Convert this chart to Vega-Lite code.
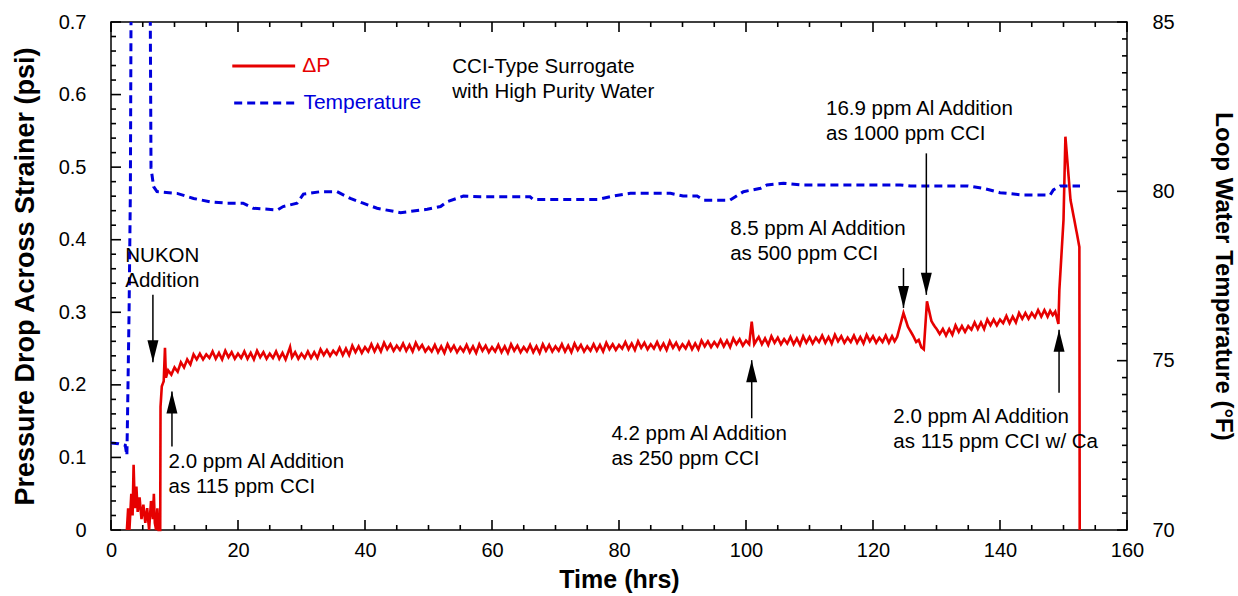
{
  "$schema": "https://vega.github.io/schema/vega-lite/v6.json",
  "width": 1016,
  "height": 508,
  "autosize": {"type": "none"},
  "padding": {"left": 111, "top": 22, "right": 111, "bottom": 66},
  "background": "white",
  "config": {
    "view": {"stroke": "black", "strokeWidth": 1.5},
    "font": "Liberation Sans",
    "axis": {
      "grid": false,
      "domain": false,
      "labelFont": "Liberation Sans",
      "labelFontSize": 20,
      "labelColor": "black",
      "labelFlush": false,
      "labelOverlap": false,
      "titleFont": "Liberation Sans",
      "titleFontSize": 24,
      "titleFontWeight": "bold",
      "titleColor": "black"
    }
  },
  "datasets": {
    "dp": [
      {"t": 2.5, "p": 0, "s": "ΔP"}, {"t": 2.7, "p": 0.03, "s": "ΔP"}, {"t": 2.9, "p": 0.0, "s": "ΔP"}, {"t": 3.2, "p": 0.05, "s": "ΔP"}, {"t": 3.4, "p": 0.02, "s": "ΔP"}, {"t": 3.56, "p": 0.09, "s": "ΔP"}, {"t": 3.75, "p": 0.03, "s": "ΔP"}, {"t": 4.0, "p": 0.06, "s": "ΔP"}, {"t": 4.2, "p": 0.025, "s": "ΔP"}, {"t": 4.5, "p": 0.045, "s": "ΔP"}, {"t": 4.8, "p": 0.015, "s": "ΔP"}, {"t": 5.1, "p": 0.035, "s": "ΔP"}, {"t": 5.4, "p": 0.01, "s": "ΔP"}, {"t": 5.7, "p": 0.03, "s": "ΔP"}, {"t": 6.0, "p": 0.0, "s": "ΔP"}, {"t": 6.3, "p": 0.04, "s": "ΔP"}, {"t": 6.6, "p": 0.015, "s": "ΔP"}, {"t": 6.75, "p": 0.05, "s": "ΔP"}, {"t": 6.9, "p": 0.01, "s": "ΔP"}, {"t": 7.1, "p": 0.0, "s": "ΔP"}, {"t": 7.3, "p": 0.03, "s": "ΔP"}, {"t": 7.5, "p": 0.0, "s": "ΔP"}, {"t": 7.75, "p": 0.0, "s": "ΔP"},
      {"t": 7.8, "p": 0.17, "s": "ΔP"}, {"t": 8.0, "p": 0.198, "s": "ΔP"}, {"t": 8.3, "p": 0.205, "s": "ΔP"}, {"t": 8.5, "p": 0.251, "s": "ΔP"}, {"t": 8.65, "p": 0.21, "s": "ΔP"}, {"t": 9.0, "p": 0.22, "s": "ΔP"}, {"t": 9.5, "p": 0.214, "s": "ΔP"}, {"t": 10.0, "p": 0.224, "s": "ΔP"}, {"t": 10.5, "p": 0.218, "s": "ΔP"},
      {"t": 11, "p": 0.231, "s": "ΔP"}, {"t": 11.5, "p": 0.224, "s": "ΔP"}, {"t": 12, "p": 0.235, "s": "ΔP"}, {"t": 12.5, "p": 0.228, "s": "ΔP"}, {"t": 13, "p": 0.242, "s": "ΔP"}, {"t": 13.5, "p": 0.235, "s": "ΔP"}, {"t": 14, "p": 0.243, "s": "ΔP"}, {"t": 14.5, "p": 0.235, "s": "ΔP"}, {"t": 15, "p": 0.242, "s": "ΔP"}, {"t": 15.5, "p": 0.237, "s": "ΔP"},
      {"t": 16, "p": 0.246, "s": "ΔP"}, {"t": 16.5, "p": 0.236, "s": "ΔP"}, {"t": 17, "p": 0.244, "s": "ΔP"}, {"t": 17.5, "p": 0.235, "s": "ΔP"}, {"t": 18, "p": 0.247, "s": "ΔP"}, {"t": 18.5, "p": 0.238, "s": "ΔP"}, {"t": 19, "p": 0.245, "s": "ΔP"}, {"t": 19.5, "p": 0.236, "s": "ΔP"}, {"t": 20, "p": 0.243, "s": "ΔP"}, {"t": 20.5, "p": 0.237, "s": "ΔP"},
      {"t": 21, "p": 0.246, "s": "ΔP"}, {"t": 21.5, "p": 0.236, "s": "ΔP"}, {"t": 22, "p": 0.244, "s": "ΔP"}, {"t": 22.5, "p": 0.235, "s": "ΔP"}, {"t": 23, "p": 0.247, "s": "ΔP"}, {"t": 23.5, "p": 0.238, "s": "ΔP"}, {"t": 24, "p": 0.245, "s": "ΔP"}, {"t": 24.5, "p": 0.236, "s": "ΔP"}, {"t": 25, "p": 0.243, "s": "ΔP"}, {"t": 25.5, "p": 0.237, "s": "ΔP"},
      {"t": 26, "p": 0.246, "s": "ΔP"}, {"t": 26.5, "p": 0.236, "s": "ΔP"}, {"t": 27, "p": 0.244, "s": "ΔP"}, {"t": 27.5, "p": 0.235, "s": "ΔP"}, {"t": 28, "p": 0.247, "s": "ΔP"}, {"t": 28.2, "p": 0.252, "s": "ΔP"}, {"t": 28.5, "p": 0.238, "s": "ΔP"}, {"t": 29, "p": 0.245, "s": "ΔP"}, {"t": 29.5, "p": 0.236, "s": "ΔP"}, {"t": 30, "p": 0.243, "s": "ΔP"}, {"t": 30.5, "p": 0.237, "s": "ΔP"},
      {"t": 31, "p": 0.246, "s": "ΔP"}, {"t": 31.5, "p": 0.237, "s": "ΔP"}, {"t": 32, "p": 0.245, "s": "ΔP"}, {"t": 32.5, "p": 0.237, "s": "ΔP"}, {"t": 33, "p": 0.249, "s": "ΔP"}, {"t": 33.5, "p": 0.241, "s": "ΔP"}, {"t": 34, "p": 0.248, "s": "ΔP"}, {"t": 34.5, "p": 0.24, "s": "ΔP"}, {"t": 35, "p": 0.247, "s": "ΔP"}, {"t": 35.5, "p": 0.242, "s": "ΔP"},
      {"t": 36, "p": 0.251, "s": "ΔP"}, {"t": 36.5, "p": 0.241, "s": "ΔP"}, {"t": 37, "p": 0.25, "s": "ΔP"}, {"t": 37.5, "p": 0.241, "s": "ΔP"}, {"t": 38, "p": 0.254, "s": "ΔP"}, {"t": 38.5, "p": 0.245, "s": "ΔP"}, {"t": 39, "p": 0.253, "s": "ΔP"}, {"t": 39.5, "p": 0.244, "s": "ΔP"}, {"t": 40, "p": 0.252, "s": "ΔP"}, {"t": 40.5, "p": 0.246, "s": "ΔP"},
      {"t": 41, "p": 0.256, "s": "ΔP"}, {"t": 41.5, "p": 0.246, "s": "ΔP"}, {"t": 42, "p": 0.255, "s": "ΔP"}, {"t": 42.5, "p": 0.246, "s": "ΔP"}, {"t": 43, "p": 0.258, "s": "ΔP"}, {"t": 43.5, "p": 0.249, "s": "ΔP"}, {"t": 44, "p": 0.256, "s": "ΔP"}, {"t": 44.5, "p": 0.247, "s": "ΔP"}, {"t": 45, "p": 0.254, "s": "ΔP"}, {"t": 45.5, "p": 0.248, "s": "ΔP"},
      {"t": 46, "p": 0.257, "s": "ΔP"}, {"t": 46.5, "p": 0.247, "s": "ΔP"}, {"t": 47, "p": 0.255, "s": "ΔP"}, {"t": 47.5, "p": 0.246, "s": "ΔP"}, {"t": 48, "p": 0.258, "s": "ΔP"}, {"t": 48.5, "p": 0.249, "s": "ΔP"}, {"t": 49, "p": 0.255, "s": "ΔP"}, {"t": 49.5, "p": 0.246, "s": "ΔP"}, {"t": 50, "p": 0.252, "s": "ΔP"}, {"t": 50.5, "p": 0.246, "s": "ΔP"},
      {"t": 51, "p": 0.255, "s": "ΔP"}, {"t": 51.5, "p": 0.245, "s": "ΔP"}, {"t": 52, "p": 0.253, "s": "ΔP"}, {"t": 52.5, "p": 0.244, "s": "ΔP"}, {"t": 53, "p": 0.256, "s": "ΔP"}, {"t": 53.5, "p": 0.247, "s": "ΔP"}, {"t": 54, "p": 0.254, "s": "ΔP"}, {"t": 54.5, "p": 0.245, "s": "ΔP"}, {"t": 55, "p": 0.252, "s": "ΔP"}, {"t": 55.5, "p": 0.246, "s": "ΔP"},
      {"t": 56, "p": 0.255, "s": "ΔP"}, {"t": 56.5, "p": 0.245, "s": "ΔP"}, {"t": 57, "p": 0.253, "s": "ΔP"}, {"t": 57.5, "p": 0.244, "s": "ΔP"}, {"t": 58, "p": 0.256, "s": "ΔP"}, {"t": 58.5, "p": 0.247, "s": "ΔP"}, {"t": 59, "p": 0.254, "s": "ΔP"}, {"t": 59.5, "p": 0.245, "s": "ΔP"}, {"t": 60, "p": 0.252, "s": "ΔP"}, {"t": 60.5, "p": 0.246, "s": "ΔP"},
      {"t": 61, "p": 0.255, "s": "ΔP"}, {"t": 61.5, "p": 0.245, "s": "ΔP"}, {"t": 62, "p": 0.253, "s": "ΔP"}, {"t": 62.5, "p": 0.244, "s": "ΔP"}, {"t": 63, "p": 0.256, "s": "ΔP"}, {"t": 63.5, "p": 0.247, "s": "ΔP"}, {"t": 64, "p": 0.254, "s": "ΔP"}, {"t": 64.5, "p": 0.245, "s": "ΔP"}, {"t": 65, "p": 0.252, "s": "ΔP"}, {"t": 65.5, "p": 0.246, "s": "ΔP"},
      {"t": 66, "p": 0.255, "s": "ΔP"}, {"t": 66.5, "p": 0.245, "s": "ΔP"}, {"t": 67, "p": 0.253, "s": "ΔP"}, {"t": 67.5, "p": 0.244, "s": "ΔP"}, {"t": 68, "p": 0.256, "s": "ΔP"}, {"t": 68.5, "p": 0.247, "s": "ΔP"}, {"t": 69, "p": 0.255, "s": "ΔP"}, {"t": 69.5, "p": 0.246, "s": "ΔP"}, {"t": 70, "p": 0.253, "s": "ΔP"}, {"t": 70.5, "p": 0.247, "s": "ΔP"},
      {"t": 71, "p": 0.256, "s": "ΔP"}, {"t": 71.5, "p": 0.246, "s": "ΔP"}, {"t": 72, "p": 0.254, "s": "ΔP"}, {"t": 72.5, "p": 0.245, "s": "ΔP"}, {"t": 73, "p": 0.257, "s": "ΔP"}, {"t": 73.5, "p": 0.248, "s": "ΔP"}, {"t": 74, "p": 0.255, "s": "ΔP"}, {"t": 74.5, "p": 0.246, "s": "ΔP"}, {"t": 75, "p": 0.253, "s": "ΔP"}, {"t": 75.5, "p": 0.247, "s": "ΔP"},
      {"t": 76, "p": 0.256, "s": "ΔP"}, {"t": 76.5, "p": 0.247, "s": "ΔP"}, {"t": 77, "p": 0.255, "s": "ΔP"}, {"t": 77.5, "p": 0.246, "s": "ΔP"}, {"t": 78, "p": 0.258, "s": "ΔP"}, {"t": 78.5, "p": 0.249, "s": "ΔP"}, {"t": 79, "p": 0.256, "s": "ΔP"}, {"t": 79.5, "p": 0.248, "s": "ΔP"}, {"t": 80, "p": 0.255, "s": "ΔP"}, {"t": 80.5, "p": 0.25, "s": "ΔP"},
      {"t": 81, "p": 0.259, "s": "ΔP"}, {"t": 81.5, "p": 0.249, "s": "ΔP"}, {"t": 82, "p": 0.257, "s": "ΔP"}, {"t": 82.5, "p": 0.248, "s": "ΔP"}, {"t": 83, "p": 0.26, "s": "ΔP"}, {"t": 83.5, "p": 0.251, "s": "ΔP"}, {"t": 84, "p": 0.258, "s": "ΔP"}, {"t": 84.5, "p": 0.249, "s": "ΔP"}, {"t": 85, "p": 0.256, "s": "ΔP"}, {"t": 85.5, "p": 0.25, "s": "ΔP"},
      {"t": 86, "p": 0.259, "s": "ΔP"}, {"t": 86.5, "p": 0.249, "s": "ΔP"}, {"t": 87, "p": 0.257, "s": "ΔP"}, {"t": 87.5, "p": 0.248, "s": "ΔP"}, {"t": 88, "p": 0.26, "s": "ΔP"}, {"t": 88.5, "p": 0.251, "s": "ΔP"}, {"t": 89, "p": 0.258, "s": "ΔP"}, {"t": 89.5, "p": 0.249, "s": "ΔP"}, {"t": 90, "p": 0.256, "s": "ΔP"}, {"t": 90.5, "p": 0.25, "s": "ΔP"},
      {"t": 91, "p": 0.259, "s": "ΔP"}, {"t": 91.5, "p": 0.249, "s": "ΔP"}, {"t": 92, "p": 0.257, "s": "ΔP"}, {"t": 92.5, "p": 0.249, "s": "ΔP"}, {"t": 93, "p": 0.261, "s": "ΔP"}, {"t": 93.5, "p": 0.253, "s": "ΔP"}, {"t": 94, "p": 0.26, "s": "ΔP"}, {"t": 94.5, "p": 0.252, "s": "ΔP"}, {"t": 95, "p": 0.259, "s": "ΔP"}, {"t": 95.5, "p": 0.253, "s": "ΔP"},
      {"t": 96, "p": 0.262, "s": "ΔP"}, {"t": 96.5, "p": 0.253, "s": "ΔP"}, {"t": 97, "p": 0.261, "s": "ΔP"}, {"t": 97.5, "p": 0.252, "s": "ΔP"}, {"t": 98, "p": 0.264, "s": "ΔP"}, {"t": 98.5, "p": 0.256, "s": "ΔP"}, {"t": 99, "p": 0.263, "s": "ΔP"}, {"t": 99.5, "p": 0.254, "s": "ΔP"}, {"t": 100, "p": 0.261, "s": "ΔP"}, {"t": 100.5, "p": 0.256, "s": "ΔP"},
      {"t": 100.9, "p": 0.287, "s": "ΔP"}, {"t": 101.3, "p": 0.256, "s": "ΔP"}, {"t": 101.7, "p": 0.262, "s": "ΔP"},
      {"t": 102, "p": 0.266, "s": "ΔP"}, {"t": 102.5, "p": 0.256, "s": "ΔP"}, {"t": 103, "p": 0.264, "s": "ΔP"}, {"t": 103.5, "p": 0.255, "s": "ΔP"}, {"t": 104, "p": 0.267, "s": "ΔP"}, {"t": 104.5, "p": 0.258, "s": "ΔP"}, {"t": 105, "p": 0.265, "s": "ΔP"}, {"t": 105.5, "p": 0.256, "s": "ΔP"}, {"t": 106, "p": 0.263, "s": "ΔP"}, {"t": 106.5, "p": 0.257, "s": "ΔP"},
      {"t": 107, "p": 0.266, "s": "ΔP"}, {"t": 107.5, "p": 0.256, "s": "ΔP"}, {"t": 108, "p": 0.264, "s": "ΔP"}, {"t": 108.5, "p": 0.255, "s": "ΔP"}, {"t": 109, "p": 0.267, "s": "ΔP"}, {"t": 109.5, "p": 0.258, "s": "ΔP"}, {"t": 110, "p": 0.266, "s": "ΔP"}, {"t": 110.5, "p": 0.257, "s": "ΔP"}, {"t": 111, "p": 0.265, "s": "ΔP"}, {"t": 111.5, "p": 0.259, "s": "ΔP"},
      {"t": 112, "p": 0.268, "s": "ΔP"}, {"t": 112.5, "p": 0.258, "s": "ΔP"}, {"t": 113, "p": 0.266, "s": "ΔP"}, {"t": 113.5, "p": 0.257, "s": "ΔP"}, {"t": 114, "p": 0.269, "s": "ΔP"}, {"t": 114.5, "p": 0.26, "s": "ΔP"}, {"t": 115, "p": 0.267, "s": "ΔP"}, {"t": 115.5, "p": 0.258, "s": "ΔP"}, {"t": 116, "p": 0.265, "s": "ΔP"}, {"t": 116.5, "p": 0.259, "s": "ΔP"},
      {"t": 117, "p": 0.268, "s": "ΔP"}, {"t": 117.5, "p": 0.258, "s": "ΔP"}, {"t": 118, "p": 0.266, "s": "ΔP"}, {"t": 118.5, "p": 0.257, "s": "ΔP"}, {"t": 119, "p": 0.269, "s": "ΔP"}, {"t": 119.5, "p": 0.26, "s": "ΔP"}, {"t": 120, "p": 0.267, "s": "ΔP"}, {"t": 120.5, "p": 0.258, "s": "ΔP"}, {"t": 121, "p": 0.265, "s": "ΔP"}, {"t": 121.5, "p": 0.259, "s": "ΔP"},
      {"t": 122, "p": 0.268, "s": "ΔP"}, {"t": 122.5, "p": 0.258, "s": "ΔP"}, {"t": 123, "p": 0.267, "s": "ΔP"}, {"t": 123.4, "p": 0.26, "s": "ΔP"}, {"t": 123.8, "p": 0.266, "s": "ΔP"}, {"t": 124.8, "p": 0.299, "s": "ΔP"}, {"t": 125.5, "p": 0.28, "s": "ΔP"}, {"t": 126.3, "p": 0.268, "s": "ΔP"}, {"t": 126.8, "p": 0.259, "s": "ΔP"}, {"t": 127.2, "p": 0.262, "s": "ΔP"}, {"t": 127.6, "p": 0.252, "s": "ΔP"}, {"t": 128.0, "p": 0.249, "s": "ΔP"}, {"t": 128.5, "p": 0.315, "s": "ΔP"}, {"t": 129.2, "p": 0.288, "s": "ΔP"}, {"t": 129.6, "p": 0.282, "s": "ΔP"}, {"t": 130.1, "p": 0.276, "s": "ΔP"}, {"t": 130.5, "p": 0.27, "s": "ΔP"},
      {"t": 131, "p": 0.277, "s": "ΔP"}, {"t": 131.5, "p": 0.268, "s": "ΔP"}, {"t": 132, "p": 0.277, "s": "ΔP"}, {"t": 132.5, "p": 0.269, "s": "ΔP"}, {"t": 133, "p": 0.282, "s": "ΔP"}, {"t": 133.5, "p": 0.273, "s": "ΔP"}, {"t": 134, "p": 0.281, "s": "ΔP"}, {"t": 134.5, "p": 0.273, "s": "ΔP"}, {"t": 135, "p": 0.281, "s": "ΔP"}, {"t": 135.5, "p": 0.276, "s": "ΔP"},
      {"t": 136, "p": 0.286, "s": "ΔP"}, {"t": 136.5, "p": 0.277, "s": "ΔP"}, {"t": 137, "p": 0.286, "s": "ΔP"}, {"t": 137.5, "p": 0.277, "s": "ΔP"}, {"t": 138, "p": 0.29, "s": "ΔP"}, {"t": 138.5, "p": 0.282, "s": "ΔP"}, {"t": 139, "p": 0.29, "s": "ΔP"}, {"t": 139.5, "p": 0.282, "s": "ΔP"}, {"t": 140, "p": 0.29, "s": "ΔP"}, {"t": 140.5, "p": 0.285, "s": "ΔP"},
      {"t": 141, "p": 0.295, "s": "ΔP"}, {"t": 141.5, "p": 0.285, "s": "ΔP"}, {"t": 142, "p": 0.294, "s": "ΔP"}, {"t": 142.5, "p": 0.286, "s": "ΔP"}, {"t": 143, "p": 0.299, "s": "ΔP"}, {"t": 143.5, "p": 0.291, "s": "ΔP"}, {"t": 144, "p": 0.299, "s": "ΔP"}, {"t": 144.5, "p": 0.291, "s": "ΔP"}, {"t": 145, "p": 0.299, "s": "ΔP"}, {"t": 145.5, "p": 0.293, "s": "ΔP"},
      {"t": 146, "p": 0.303, "s": "ΔP"}, {"t": 146.5, "p": 0.294, "s": "ΔP"}, {"t": 147, "p": 0.303, "s": "ΔP"}, {"t": 147.5, "p": 0.294, "s": "ΔP"}, {"t": 147.9, "p": 0.302, "s": "ΔP"}, {"t": 148.3, "p": 0.296, "s": "ΔP"}, {"t": 148.7, "p": 0.301, "s": "ΔP"}, {"t": 149.2, "p": 0.284, "s": "ΔP"},
      {"t": 149.35, "p": 0.331, "s": "ΔP"}, {"t": 150.0, "p": 0.427, "s": "ΔP"}, {"t": 150.3, "p": 0.542, "s": "ΔP"}, {"t": 151.1, "p": 0.455, "s": "ΔP"}, {"t": 152.1, "p": 0.409, "s": "ΔP"}, {"t": 152.5, "p": 0.39, "s": "ΔP"}, {"t": 152.55, "p": 0, "s": "ΔP"}
    ],
    "temp": [
      {"t": 0, "T": 72.57, "s": "Temperature"}, {"t": 1.2, "T": 72.55, "s": "Temperature"}, {"t": 2.25, "T": 72.5, "s": "Temperature"}, {"t": 2.5, "T": 72.2, "s": "Temperature"}, {"t": 2.6, "T": 73.3, "s": "Temperature"}, {"t": 2.85, "T": 76.5, "s": "Temperature"}, {"t": 3.05, "T": 80.0, "s": "Temperature"}, {"t": 3.15, "T": 85.0, "s": "Temperature"}, {"t": 3.2, "T": 88, "s": "Temperature"},
      {"t": 6.15, "T": 88, "s": "Temperature"}, {"t": 6.19, "T": 85, "s": "Temperature"}, {"t": 6.3, "T": 80.7, "s": "Temperature"}, {"t": 6.71, "T": 80.14, "s": "Temperature"}, {"t": 7.24, "T": 79.99, "s": "Temperature"}, {"t": 10.4, "T": 79.94, "s": "Temperature"}, {"t": 13.0, "T": 79.79, "s": "Temperature"}, {"t": 15.6, "T": 79.69, "s": "Temperature"}, {"t": 18.3, "T": 79.65, "s": "Temperature"}, {"t": 20.8, "T": 79.65, "s": "Temperature"},
      {"t": 22.4, "T": 79.5, "s": "Temperature"}, {"t": 26.2, "T": 79.45, "s": "Temperature"}, {"t": 27.1, "T": 79.55, "s": "Temperature"}, {"t": 29.3, "T": 79.65, "s": "Temperature"}, {"t": 30.3, "T": 79.92, "s": "Temperature"}, {"t": 33.0, "T": 79.99, "s": "Temperature"}, {"t": 35.6, "T": 79.99, "s": "Temperature"}, {"t": 37.7, "T": 79.79, "s": "Temperature"}, {"t": 39.7, "T": 79.65, "s": "Temperature"}, {"t": 41.9, "T": 79.5, "s": "Temperature"},
      {"t": 45.6, "T": 79.37, "s": "Temperature"}, {"t": 49.8, "T": 79.47, "s": "Temperature"}, {"t": 51.9, "T": 79.55, "s": "Temperature"}, {"t": 52.9, "T": 79.69, "s": "Temperature"}, {"t": 55.5, "T": 79.86, "s": "Temperature"}, {"t": 58.1, "T": 79.84, "s": "Temperature"}, {"t": 66.0, "T": 79.84, "s": "Temperature"}, {"t": 66.5, "T": 79.76, "s": "Temperature"}, {"t": 76.6, "T": 79.76, "s": "Temperature"}, {"t": 79.1, "T": 79.86, "s": "Temperature"},
      {"t": 81.8, "T": 79.94, "s": "Temperature"}, {"t": 88.1, "T": 79.94, "s": "Temperature"}, {"t": 90.1, "T": 79.86, "s": "Temperature"}, {"t": 92.3, "T": 79.86, "s": "Temperature"}, {"t": 93.3, "T": 79.74, "s": "Temperature"}, {"t": 97.5, "T": 79.74, "s": "Temperature"}, {"t": 99.6, "T": 79.99, "s": "Temperature"}, {"t": 102.3, "T": 80.09, "s": "Temperature"}, {"t": 103.3, "T": 80.19, "s": "Temperature"}, {"t": 105.9, "T": 80.24, "s": "Temperature"},
      {"t": 108.6, "T": 80.19, "s": "Temperature"}, {"t": 124.3, "T": 80.19, "s": "Temperature"}, {"t": 125.9, "T": 80.16, "s": "Temperature"}, {"t": 134.9, "T": 80.16, "s": "Temperature"}, {"t": 137.4, "T": 80.09, "s": "Temperature"}, {"t": 140.0, "T": 79.96, "s": "Temperature"}, {"t": 143.7, "T": 79.89, "s": "Temperature"}, {"t": 147.9, "T": 79.89, "s": "Temperature"}, {"t": 148.4, "T": 80.04, "s": "Temperature"}, {"t": 149.5, "T": 80.16, "s": "Temperature"}, {"t": 152.6, "T": 80.16, "s": "Temperature"}
    ],
    "arrows": [
      {"t": 6.6, "from": 0.324, "tip": 0.231, "dir": "down"},
      {"t": 9.6, "from": 0.115, "tip": 0.191, "dir": "up"},
      {"t": 100.9, "from": 0.154, "tip": 0.234, "dir": "up"},
      {"t": 124.8, "from": 0.361, "tip": 0.306, "dir": "down"},
      {"t": 128.4, "from": 0.519, "tip": 0.324, "dir": "down"},
      {"t": 149.3, "from": 0.189, "tip": 0.276, "dir": "up"}
    ],
    "notes": [
      {"t": 2.25, "p": 0.369, "lines": ["NUKON", "Addition"]},
      {"t": 9.07, "p": 0.0854, "lines": ["2.0 ppm Al Addition", "as 115 ppm CCI"]},
      {"t": 78.8, "p": 0.124, "lines": ["4.2 ppm Al Addition", "as 250 ppm CCI"]},
      {"t": 97.5, "p": 0.4065, "lines": ["8.5 ppm Al Addition", "as 500 ppm CCI"]},
      {"t": 112.6, "p": 0.5719, "lines": ["16.9 ppm Al Addition", "as 1000 ppm CCI"]},
      {"t": 123.2, "p": 0.1474, "lines": ["2.0 ppm Al Addition", "as 115 ppm CCI w/ Ca"]},
      {"t": 53.75, "p": 0.6297, "lines": ["CCI-Type Surrogate", "with High Purity Water"]}
    ],
    "keyLines": [
      {"t1": 19.1, "t2": 29.0, "p": 0.6394, "s": "ΔP"},
      {"t1": 19.4, "t2": 29.5, "p": 0.5884, "s": "Temperature"}
    ],
    "keyText": [
      {"t": 30.1, "p": 0.6394, "s": "ΔP"},
      {"t": 30.3, "p": 0.5884, "s": "Temperature"}
    ],
    "xticks": [
      {"t": 0, "kind": "major"}, {"t": 5, "kind": "minor"}, {"t": 10, "kind": "minor"}, {"t": 15, "kind": "minor"}, {"t": 20, "kind": "major"}, {"t": 25, "kind": "minor"}, {"t": 30, "kind": "minor"}, {"t": 35, "kind": "minor"}, {"t": 40, "kind": "major"}, {"t": 45, "kind": "minor"}, {"t": 50, "kind": "minor"}, {"t": 55, "kind": "minor"}, {"t": 60, "kind": "major"}, {"t": 65, "kind": "minor"}, {"t": 70, "kind": "minor"}, {"t": 75, "kind": "minor"}, {"t": 80, "kind": "major"},
      {"t": 85, "kind": "minor"}, {"t": 90, "kind": "minor"}, {"t": 95, "kind": "minor"}, {"t": 100, "kind": "major"}, {"t": 105, "kind": "minor"}, {"t": 110, "kind": "minor"}, {"t": 115, "kind": "minor"}, {"t": 120, "kind": "major"}, {"t": 125, "kind": "minor"}, {"t": 130, "kind": "minor"}, {"t": 135, "kind": "minor"}, {"t": 140, "kind": "major"}, {"t": 145, "kind": "minor"}, {"t": 150, "kind": "minor"}, {"t": 155, "kind": "minor"}, {"t": 160, "kind": "major"}
    ],
    "pticks": [
      {"p": 0, "kind": "major"}, {"p": 0.02, "kind": "minor"}, {"p": 0.04, "kind": "minor"}, {"p": 0.06, "kind": "minor"}, {"p": 0.08, "kind": "minor"}, {"p": 0.1, "kind": "major"}, {"p": 0.12, "kind": "minor"}, {"p": 0.14, "kind": "minor"}, {"p": 0.16, "kind": "minor"}, {"p": 0.18, "kind": "minor"}, {"p": 0.2, "kind": "major"}, {"p": 0.22, "kind": "minor"}, {"p": 0.24, "kind": "minor"}, {"p": 0.26, "kind": "minor"}, {"p": 0.28, "kind": "minor"}, {"p": 0.3, "kind": "major"}, {"p": 0.32, "kind": "minor"}, {"p": 0.34, "kind": "minor"},
      {"p": 0.36, "kind": "minor"}, {"p": 0.38, "kind": "minor"}, {"p": 0.4, "kind": "major"}, {"p": 0.42, "kind": "minor"}, {"p": 0.44, "kind": "minor"}, {"p": 0.46, "kind": "minor"}, {"p": 0.48, "kind": "minor"}, {"p": 0.5, "kind": "major"}, {"p": 0.52, "kind": "minor"}, {"p": 0.54, "kind": "minor"}, {"p": 0.56, "kind": "minor"}, {"p": 0.58, "kind": "minor"}, {"p": 0.6, "kind": "major"}, {"p": 0.62, "kind": "minor"}, {"p": 0.64, "kind": "minor"}, {"p": 0.66, "kind": "minor"}, {"p": 0.68, "kind": "minor"}, {"p": 0.7, "kind": "major"}
    ],
    "Tticks": [
      {"T": 70, "kind": "major"}, {"T": 70.5, "kind": "minor"}, {"T": 71, "kind": "minor"}, {"T": 71.5, "kind": "minor"}, {"T": 72, "kind": "minor"}, {"T": 72.5, "kind": "minor"}, {"T": 73, "kind": "minor"}, {"T": 73.5, "kind": "minor"}, {"T": 74, "kind": "minor"}, {"T": 74.5, "kind": "minor"}, {"T": 75, "kind": "major"}, {"T": 75.5, "kind": "minor"}, {"T": 76, "kind": "minor"}, {"T": 76.5, "kind": "minor"}, {"T": 77, "kind": "minor"}, {"T": 77.5, "kind": "minor"},
      {"T": 78, "kind": "minor"}, {"T": 78.5, "kind": "minor"}, {"T": 79, "kind": "minor"}, {"T": 79.5, "kind": "minor"}, {"T": 80, "kind": "major"}, {"T": 80.5, "kind": "minor"}, {"T": 81, "kind": "minor"}, {"T": 81.5, "kind": "minor"}, {"T": 82, "kind": "minor"}, {"T": 82.5, "kind": "minor"}, {"T": 83, "kind": "minor"}, {"T": 83.5, "kind": "minor"}, {"T": 84, "kind": "minor"}, {"T": 84.5, "kind": "minor"}, {"T": 85, "kind": "major"}
    ]
  },
  "layer": [
    {
      "data": {"name": "dp"},
      "mark": {"type": "line", "strokeWidth": 2.6},
      "encoding": {
        "x": {"field": "t", "type": "quantitative", "scale": {"domain": [0, 160], "nice": false, "zero": false},
          "axis": {"orient": "bottom", "values": [0, 20, 40, 60, 80, 100, 120, 140, 160], "ticks": false, "labelPadding": 10, "format": "d", "title": "Time (hrs)", "titleFontSize": 25, "titlePadding": 7}},
        "y": {"field": "p", "type": "quantitative", "scale": {"domain": [0, 0.7], "nice": false, "zero": false},
          "axis": {"orient": "left", "values": [0, 0.1, 0.2, 0.3, 0.4, 0.5, 0.6, 0.7], "ticks": false, "labelPadding": 25, "format": "~g", "title": "Pressure Drop Across Strainer (psi)", "titleFontSize": 27, "titlePadding": 19}},
        "color": {"field": "s", "type": "nominal", "scale": {"domain": ["ΔP", "Temperature"], "range": ["#e60000", "#0000dd"]}, "legend": null},
        "strokeDash": {"field": "s", "type": "nominal", "scale": {"domain": ["ΔP", "Temperature"], "range": [[1, 0], [8, 5]]}, "legend": null}
      }
    },
    {
      "data": {"name": "temp"},
      "mark": {"type": "line", "strokeWidth": 3, "clip": true},
      "encoding": {
        "x": {"field": "t", "type": "quantitative", "scale": {"domain": [0, 160], "nice": false, "zero": false}, "axis": null},
        "y": {"field": "T", "type": "quantitative", "scale": {"domain": [70, 85], "nice": false, "zero": false},
          "axis": {"orient": "right", "values": [70, 75, 80, 85], "ticks": false, "labelPadding": 25, "format": "d", "title": "Loop Water Temperature (°F)", "titlePadding": 36}},
        "color": {"field": "s", "type": "nominal", "legend": null},
        "strokeDash": {"field": "s", "type": "nominal", "legend": null}
      }
    },
    {
      "data": {"name": "xticks"},
      "transform": [{"filter": "datum.kind == 'major'"}],
      "mark": {"type": "rule", "color": "black", "strokeWidth": 1.6},
      "encoding": {
        "x": {"field": "t", "type": "quantitative", "scale": {"domain": [0, 160], "nice": false, "zero": false}, "axis": null},
        "y": {"datum": 0, "type": "quantitative", "scale": {"domain": [0, 0.7], "nice": false, "zero": false}, "axis": null},
        "y2": {"datum": 0.01378}
      }
    },
    {
      "data": {"name": "xticks"},
      "transform": [{"filter": "datum.kind == 'minor'"}],
      "mark": {"type": "rule", "color": "black", "strokeWidth": 1.6},
      "encoding": {
        "x": {"field": "t", "type": "quantitative", "scale": {"domain": [0, 160], "nice": false, "zero": false}, "axis": null},
        "y": {"datum": 0, "type": "quantitative", "scale": {"domain": [0, 0.7], "nice": false, "zero": false}, "axis": null},
        "y2": {"datum": 0.00689}
      }
    },
    {
      "data": {"name": "xticks"},
      "transform": [{"filter": "datum.kind == 'major'"}],
      "mark": {"type": "rule", "color": "black", "strokeWidth": 1.6},
      "encoding": {
        "x": {"field": "t", "type": "quantitative", "scale": {"domain": [0, 160], "nice": false, "zero": false}, "axis": null},
        "y": {"datum": 0.7, "type": "quantitative", "scale": {"domain": [0, 0.7], "nice": false, "zero": false}, "axis": null},
        "y2": {"datum": 0.68622}
      }
    },
    {
      "data": {"name": "xticks"},
      "transform": [{"filter": "datum.kind == 'minor'"}],
      "mark": {"type": "rule", "color": "black", "strokeWidth": 1.6},
      "encoding": {
        "x": {"field": "t", "type": "quantitative", "scale": {"domain": [0, 160], "nice": false, "zero": false}, "axis": null},
        "y": {"datum": 0.7, "type": "quantitative", "scale": {"domain": [0, 0.7], "nice": false, "zero": false}, "axis": null},
        "y2": {"datum": 0.69311}
      }
    },
    {
      "data": {"name": "pticks"},
      "transform": [{"filter": "datum.kind == 'major'"}],
      "mark": {"type": "rule", "color": "black", "strokeWidth": 1.6},
      "encoding": {
        "x": {"datum": 0, "type": "quantitative", "scale": {"domain": [0, 160], "nice": false, "zero": false}, "axis": null},
        "x2": {"datum": 1.5748},
        "y": {"field": "p", "type": "quantitative", "scale": {"domain": [0, 0.7], "nice": false, "zero": false}, "axis": null}
      }
    },
    {
      "data": {"name": "pticks"},
      "transform": [{"filter": "datum.kind == 'minor'"}],
      "mark": {"type": "rule", "color": "black", "strokeWidth": 1.6},
      "encoding": {
        "x": {"datum": 0, "type": "quantitative", "scale": {"domain": [0, 160], "nice": false, "zero": false}, "axis": null},
        "x2": {"datum": 0.7874},
        "y": {"field": "p", "type": "quantitative", "scale": {"domain": [0, 0.7], "nice": false, "zero": false}, "axis": null}
      }
    },
    {
      "data": {"name": "Tticks"},
      "transform": [{"filter": "datum.kind == 'major'"}],
      "mark": {"type": "rule", "color": "black", "strokeWidth": 1.6},
      "encoding": {
        "x": {"datum": 160, "type": "quantitative", "scale": {"domain": [0, 160], "nice": false, "zero": false}, "axis": null},
        "x2": {"datum": 158.4252},
        "y": {"field": "T", "type": "quantitative", "scale": {"domain": [70, 85], "nice": false, "zero": false}, "axis": null}
      }
    },
    {
      "data": {"name": "Tticks"},
      "transform": [{"filter": "datum.kind == 'minor'"}],
      "mark": {"type": "rule", "color": "black", "strokeWidth": 1.6},
      "encoding": {
        "x": {"datum": 160, "type": "quantitative", "scale": {"domain": [0, 160], "nice": false, "zero": false}, "axis": null},
        "x2": {"datum": 159.2126},
        "y": {"field": "T", "type": "quantitative", "scale": {"domain": [70, 85], "nice": false, "zero": false}, "axis": null}
      }
    },
    {
      "data": {"name": "arrows"},
      "mark": {"type": "rule", "color": "black", "strokeWidth": 1.5},
      "encoding": {
        "x": {"field": "t", "type": "quantitative", "scale": {"domain": [0, 160], "nice": false, "zero": false}, "axis": null},
        "y": {"field": "from", "type": "quantitative", "scale": {"domain": [0, 0.7], "nice": false, "zero": false}, "axis": null},
        "y2": {"field": "tip"}
      }
    },
    {
      "data": {"name": "arrows"},
      "mark": {"type": "point", "filled": true, "color": "black", "opacity": 1, "size": 484, "strokeWidth": 0},
      "encoding": {
        "x": {"field": "t", "type": "quantitative", "scale": {"domain": [0, 160], "nice": false, "zero": false}, "axis": null},
        "y": {"field": "tip", "type": "quantitative", "scale": {"domain": [0, 0.7], "nice": false, "zero": false}, "axis": null},
        "shape": {"field": "dir", "type": "nominal", "scale": {"domain": ["down", "up"], "range": ["M-0.5,-2L0.5,-2L0,0Z", "M-0.5,2L0.5,2L0,0Z"]}, "legend": null}
      }
    },
    {
      "data": {"name": "notes"},
      "mark": {"type": "text", "align": "left", "baseline": "alphabetic", "font": "Liberation Sans", "fontSize": 20.5, "lineHeight": 25, "color": "black"},
      "encoding": {
        "x": {"field": "t", "type": "quantitative", "scale": {"domain": [0, 160], "nice": false, "zero": false}, "axis": null},
        "y": {"field": "p", "type": "quantitative", "scale": {"domain": [0, 0.7], "nice": false, "zero": false}, "axis": null},
        "text": {"field": "lines"}
      }
    },
    {
      "data": {"name": "keyLines"},
      "mark": {"type": "rule", "strokeWidth": 3},
      "encoding": {
        "x": {"field": "t1", "type": "quantitative", "scale": {"domain": [0, 160], "nice": false, "zero": false}, "axis": null},
        "x2": {"field": "t2"},
        "y": {"field": "p", "type": "quantitative", "scale": {"domain": [0, 0.7], "nice": false, "zero": false}, "axis": null},
        "color": {"field": "s", "type": "nominal", "legend": null},
        "strokeDash": {"field": "s", "type": "nominal", "legend": null}
      }
    },
    {
      "data": {"name": "keyText"},
      "mark": {"type": "text", "align": "left", "baseline": "middle", "font": "Liberation Sans", "fontSize": 21},
      "encoding": {
        "x": {"field": "t", "type": "quantitative", "scale": {"domain": [0, 160], "nice": false, "zero": false}, "axis": null},
        "y": {"field": "p", "type": "quantitative", "scale": {"domain": [0, 0.7], "nice": false, "zero": false}, "axis": null},
        "text": {"field": "s"},
        "color": {"field": "s", "type": "nominal", "legend": null}
      }
    }
  ],
  "resolve": {"scale": {"y": "independent"}, "axis": {"x": "independent", "y": "independent"}}
}
